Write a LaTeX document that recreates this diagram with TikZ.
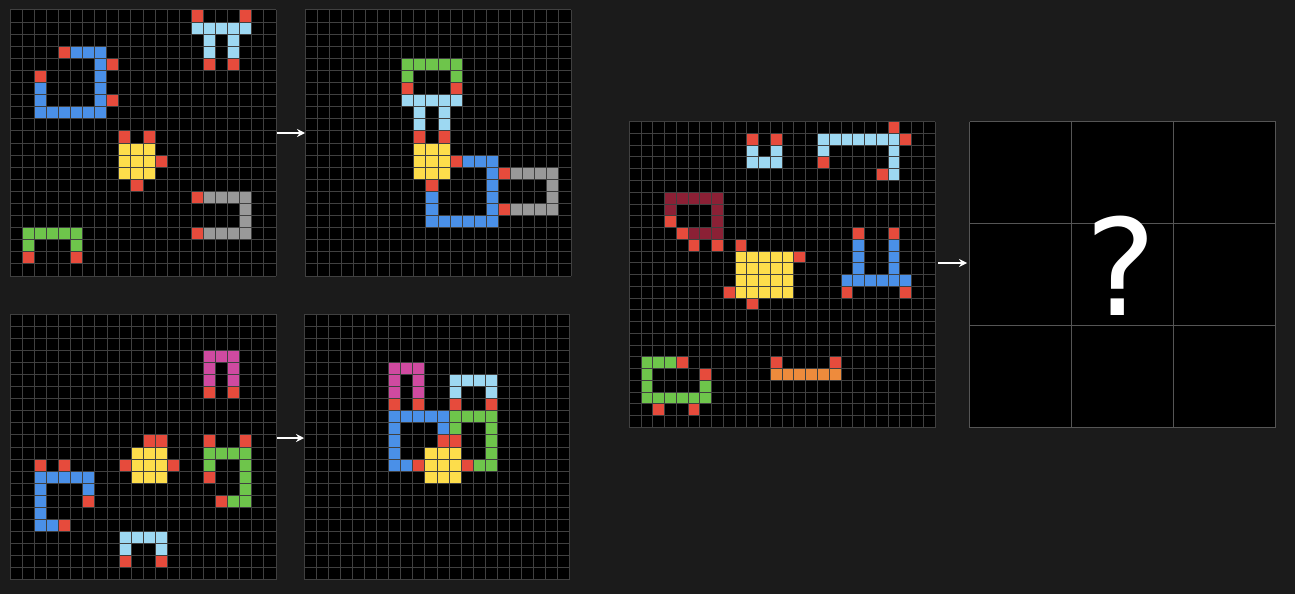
\documentclass[tikz,border=0pt]{standalone}
\usepackage{fontspec}
\setmainfont{DejaVu Sans}
\usetikzlibrary{arrows.meta}
\definecolor{bgc}{HTML}{1B1B1B}
\definecolor{gridc}{HTML}{404040}
\definecolor{framec}{HTML}{555555}
\definecolor{cR}{HTML}{E64B3C}
\definecolor{cB}{HTML}{4A90E8}
\definecolor{cL}{HTML}{9DD8F2}
\definecolor{cG}{HTML}{6EC54B}
\definecolor{cY}{HTML}{FDDD4B}
\definecolor{cA}{HTML}{999999}
\definecolor{cM}{HTML}{CF4AA0}
\definecolor{cW}{HTML}{8B2035}
\definecolor{cO}{HTML}{EE8B3C}
\newcommand\setgrid[4]{\def\gx{#1}\def\gy{#2}\def\gw{#3}\def\gn{#4}\pgfmathsetmacro\gs{#3/#4}}
\newcommand\cells[2]{\foreach \c/\r in {#2} {\fill[#1] ({\gx+\c*\gs},{\gy+\r*\gs}) rectangle ++(\gs,\gs);}}
\newcommand\blk[5]{\foreach \c in {#2,...,#3} {\foreach \r in {#4,...,#5} {\fill[#1] ({\gx+\c*\gs},{\gy+\r*\gs}) rectangle ++(\gs,\gs);}}}
\newcommand\gbase[1]{\node[gridbox, minimum width=\gw pt, minimum height=\gw pt, anchor=north west] (#1) at (\gx,\gy) {};}
\newcommand\glines[1]{\foreach \i in {0,...,\gn} {\draw[#1] ({\gx+\i*\gs},\gy) -- ++(0,\gw); \draw[#1] (\gx,{\gy+\i*\gs}) -- ++(\gw,0);}}
\begin{document}
\begin{tikzpicture}[x=1pt,y=-1pt,
  gridbox/.style={fill=black, draw=none, inner sep=0pt, outer sep=0pt},
  gline/.style={draw=gridc, line width=1pt},
  bigline/.style={draw=framec, line width=1pt},
  flow/.style={draw=white, line width=1.5pt, -{Stealth[length=8pt,width=8pt]}},
  qmark/.style={text=white, inner sep=0pt, font=\fontsize{134}{134}\selectfont}]
\useasboundingbox (0,0) rectangle (1295,594);
\fill[bgc] (0,0) rectangle (1295,594);

% ---------- example 1 input ----------
\setgrid{10}{10}{266}{22}
\gbase{e1in}
\cells{cR}{15/0,19/0,16/4,18/4,4/3,8/4,2/5,8/7,9/10,11/10,12/12,10/14,15/15,15/18,1/20,5/20}
\blk{cL}{15}{19}{1}{1}
\cells{cL}{16/2,18/2,16/3,18/3}
\cells{cB}{5/3,6/3,7/3,7/4,7/5,7/6,7/7,2/6,2/7}
\blk{cB}{2}{7}{8}{8}
\blk{cY}{9}{11}{11}{13}
\blk{cA}{16}{19}{15}{15}
\blk{cA}{16}{19}{18}{18}
\cells{cA}{19/16,19/17}
\blk{cG}{1}{5}{18}{18}
\cells{cG}{1/19,5/19}
\glines{gline}

% ---------- example 1 output ----------
\setgrid{305}{10}{266}{22}
\gbase{e1out}
\blk{cG}{8}{12}{4}{4}
\cells{cG}{8/5,12/5}
\cells{cR}{8/6,12/6,9/10,11/10,12/12,16/13,10/14,16/16}
\blk{cL}{8}{12}{7}{7}
\cells{cL}{9/8,11/8,9/9,11/9}
\blk{cY}{9}{11}{11}{13}
\cells{cB}{13/12,14/12,15/12,15/13,15/14,10/15,15/15,10/16,15/16}
\blk{cB}{10}{15}{17}{17}
\blk{cA}{17}{20}{13}{13}
\blk{cA}{17}{20}{16}{16}
\cells{cA}{20/14,20/15}
\glines{gline}

% ---------- example 2 input ----------
\setgrid{10.5}{314.3}{265.5}{22}
\gbase{e2in}
\blk{cM}{16}{18}{3}{3}
\cells{cM}{16/4,18/4,16/5,18/5}
\cells{cR}{16/6,18/6,11/10,12/10,16/10,19/10,2/12,4/12,9/12,13/12,16/13,6/15,17/15,4/17,9/20,12/20}
\blk{cY}{10}{12}{11}{13}
\blk{cG}{16}{19}{11}{11}
\cells{cG}{16/12,19/12,19/13,19/14,18/15,19/15}
\blk{cB}{2}{6}{13}{13}
\cells{cB}{2/14,6/14,2/15,2/16,2/17,3/17}
\blk{cL}{9}{12}{18}{18}
\cells{cL}{9/19,12/19}
\glines{gline}

% ---------- example 2 output ----------
\setgrid{304.3}{314.3}{265.5}{22}
\gbase{e2out}
\blk{cM}{7}{9}{4}{4}
\cells{cM}{7/5,9/5,7/6,9/6}
\blk{cL}{12}{15}{5}{5}
\cells{cL}{12/6,15/6}
\cells{cR}{7/7,9/7,12/7,15/7,11/10,12/10,9/12,13/12}
\blk{cB}{7}{11}{8}{8}
\cells{cB}{7/9,11/9,7/10,7/11,7/12,8/12}
\blk{cG}{12}{15}{8}{8}
\cells{cG}{12/9,15/9,15/10,15/11,14/12,15/12}
\blk{cY}{10}{12}{11}{13}
\glines{gline}

% ---------- test input ----------
\setgrid{629.3}{121.7}{305.8}{26}
\gbase{tin}
\cells{cR}{22/0,10/1,12/1,23/1,16/3,21/4,3/8,4/9,19/9,22/9,5/10,7/10,9/10,14/11,8/14,18/14,23/14,10/15,4/20,12/20,17/20,6/21,2/24,5/24}
\blk{cL}{16}{22}{1}{1}
\cells{cL}{10/2,12/2,16/2,22/2,22/3,22/4}
\blk{cL}{10}{12}{3}{3}
\blk{cW}{3}{7}{6}{6}
\cells{cW}{3/7,7/7,7/8}
\blk{cW}{5}{7}{9}{9}
\cells{cB}{19/10,22/10,19/11,22/11,19/12,22/12}
\blk{cB}{18}{23}{13}{13}
\blk{cY}{9}{13}{11}{14}
\blk{cG}{1}{3}{20}{20}
\cells{cG}{1/21,1/22,6/22}
\blk{cG}{1}{6}{23}{23}
\blk{cO}{12}{17}{21}{21}
\glines{gline}

% ---------- test output (unknown) ----------
\setgrid{969.5}{121.7}{306}{3}
\gbase{tout}
\glines{bigline}
\node[qmark, anchor=base] (q) at (1121,315) {?};

% ---------- arrows ----------
\coordinate (a1s) at (277,133);
\coordinate (a1e) at (305,133);
\coordinate (a2s) at (277,438);
\coordinate (a2e) at (304,438);
\coordinate (a3s) at (938,263);
\coordinate (a3e) at (967,263);
\draw[flow] (a1s) -- (a1e);
\draw[flow] (a2s) -- (a2e);
\draw[flow] (a3s) -- (a3e);
\end{tikzpicture}
\end{document}
